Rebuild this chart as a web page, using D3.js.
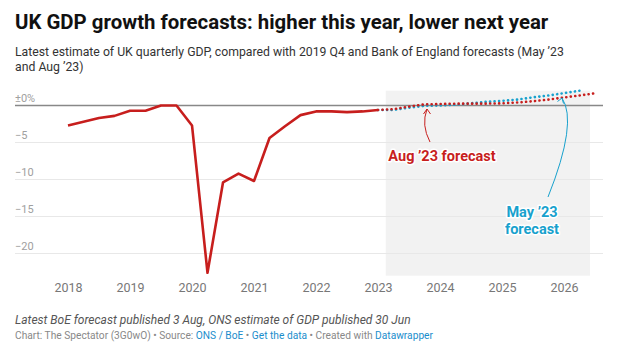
<!DOCTYPE html>
<html><head><meta charset="utf-8">
<script src="https://cdn.jsdelivr.net/npm/d3@7"></script>
<style>
body{margin:0;background:#fff;}
svg{display:block;font-family:Roboto,"Noto Sans",sans-serif;}
</style></head>
<body><svg id="c" width="619" height="355"></svg>
<script>
// ---- data ----
const quarters = ["2018Q1","2018Q2","2018Q3","2018Q4","2019Q1","2019Q2","2019Q3","2019Q4",
  "2020Q1","2020Q2","2020Q3","2020Q4","2021Q1","2021Q2","2021Q3","2021Q4",
  "2022Q1","2022Q2","2022Q3","2022Q4","2023Q1"];
const gdpActual = [-2.7,-2.2,-1.7,-1.4,-0.7,-0.7,0.0,0.0,-2.7,-22.6,-10.4,-9.2,-10.2,-4.4,-2.8,-1.3,-0.8,-0.8,-0.9,-0.8,-0.6];
const forecastQuarters = ["2023Q1","2023Q2","2023Q3","2023Q4","2024Q1","2024Q2","2024Q3","2024Q4",
  "2025Q1","2025Q2","2025Q3","2025Q4","2026Q1","2026Q2","2026Q3"];
const augForecast = [-0.6,-0.5,-0.15,0.15,0.2,0.25,0.25,0.25,0.3,0.4,0.58,0.8,1.08,1.35,1.65];
const mayForecast = [-0.6,-0.6,-0.3,-0.05,0.0,0.1,0.3,0.5,0.63,0.8,1.1,1.35,1.67,2.0];
const yearTicks = [2018,2019,2020,2021,2022,2023,2024,2025,2026];
const yTicks = [0,-5,-10,-15,-20];
const yTickLabels = ["±0%","−5","−10","−15","−20"];
const forecastShade = [2023.125, 2026.42];

// ---- helpers ----
const qt = s => +s.slice(0,4) + (+s.slice(5)-1)/4;
const svg = d3.select("#c");
const red = "#c71e1d", blue = "#18a1cd";

const x = d3.scaleLinear().domain([2018, 2026]).range([68, 564]);
const y = d3.scaleLinear().domain([-23, 2]).range([275.7, 90.7]);

// titles
svg.append("text").attr("x",15).attr("y",29.3).attr("font-size",20.4).attr("font-weight",700)
  .attr("fill","#111").text("UK GDP growth forecasts: higher this year, lower next year");
const sub = svg.append("text").attr("font-size",12.25).attr("fill","#333");
sub.append("tspan").attr("x",15).attr("y",55.7).text("Latest estimate of UK quarterly GDP, compared with 2019 Q4 and Bank of England forecasts (May ’23");
sub.append("tspan").attr("x",15).attr("y",71.2).text("and Aug ’23)");

// shading
svg.append("rect").attr("x",x(forecastShade[0])).attr("width",x(forecastShade[1])-x(forecastShade[0]))
  .attr("y",y(2)).attr("height",y(-23)-y(2)).attr("fill","#f2f2f2");

// grid
const g = svg.append("g");
g.selectAll("line.grid").data(yTicks).join("line")
  .attr("x1",15).attr("x2",603)
  .attr("y1",d=>y(d)).attr("y2",d=>y(d))
  .attr("stroke",d=>d===0?"#888":"#e8e8e8")
  .attr("stroke-width",d=>d===0?1.6:1);
g.selectAll("text.yl").data(yTicks).join("text")
  .attr("x",15).attr("y",d=>y(d)-4).attr("font-size",11).attr("fill","#a0a0a0")
  .text((d,i)=>yTickLabels[i]);

// x axis
const xa = svg.append("g").attr("transform","translate(0,280)")
  .call(d3.axisBottom(x).tickValues(yearTicks).tickFormat(d3.format("d")).tickSize(0));
xa.select(".domain").remove();
xa.selectAll("text").attr("font-family","Roboto,sans-serif").attr("font-size",12.5).attr("fill","#777").attr("dy","0.71em").attr("y",3);

// lines
const line = d3.line().x(d=>x(d[0])).y(d=>y(d[1]));
const mayPts = mayForecast.map((v,i)=>[qt(forecastQuarters[i]),v]);
const augPts = augForecast.map((v,i)=>[qt(forecastQuarters[i]),v]);
const actPts = gdpActual.map((v,i)=>[qt(quarters[i]),v]);

svg.append("path").attr("d",line(mayPts)).attr("fill","none").attr("stroke",blue)
  .attr("stroke-width",2.6).attr("stroke-linecap","round").attr("stroke-dasharray","0.1 4.4");
svg.append("path").attr("d",line(augPts)).attr("fill","none").attr("stroke",red)
  .attr("stroke-width",2.6).attr("stroke-linecap","round").attr("stroke-dasharray","0.1 4.4");
svg.append("path").attr("d",line(actPts)).attr("fill","none").attr("stroke",red)
  .attr("stroke-width",2.6).attr("stroke-linejoin","round");

// annotations
function arrow(d, color){
  svg.append("path").attr("d",d).attr("fill","none").attr("stroke",color).attr("stroke-width",1);
}
arrow("M430,142 Q421,125 427,109", red);
arrow("M423.5,114 L427,109 L430.5,114", red);
arrow("M548,197 Q578,122 562,98", blue);
arrow("M557.5,101.5 L562,98 L563.5,103.5", blue);

function label(xp, yp, txt, color){
  svg.append("text").attr("x",xp).attr("y",yp).attr("text-anchor","middle")
    .attr("font-size",14.5).attr("font-weight",700).attr("fill",color)
    .attr("stroke","#fff").attr("stroke-width",3).attr("paint-order","stroke")
    .attr("stroke-linejoin","round").text(txt);
}
label(442, 160.5, "Aug ’23 forecast", red);
label(532, 216.5, "May ’23", blue);
label(532, 233.5, "forecast", blue);

// footer
svg.append("text").attr("x",15).attr("y",323.5).attr("font-size",12).attr("font-style","italic")
  .attr("fill","#555").text("Latest BoE forecast published 3 Aug, ONS estimate of GDP published 30 Jun");
const cr = svg.append("text").attr("x",15).attr("y",338.5).attr("font-size",10.2).attr("fill","#888");
const parts = [["Chart: The Spectator (3G0wO) • Source: ","#888"],["ONS / BoE","#1a8dcc"],[" • ","#888"],
  ["Get the data","#1a8dcc"],[" • Created with ","#888"],["Datawrapper","#1a8dcc"]];
parts.forEach(p=>cr.append("tspan").attr("fill",p[1]).text(p[0]));
</script></body></html>
